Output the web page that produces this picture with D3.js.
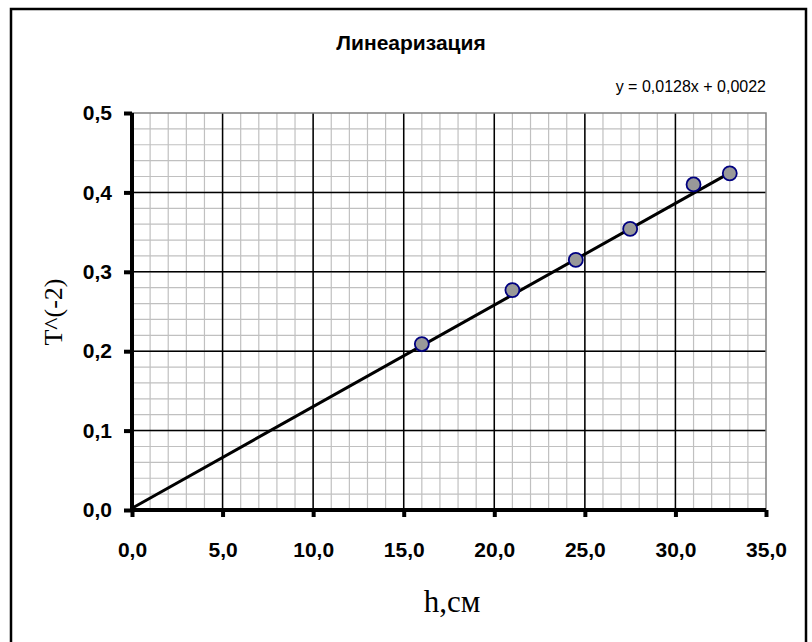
<!DOCTYPE html>
<html><head><meta charset="utf-8">
<script src="https://cdn.jsdelivr.net/npm/d3@7"></script>
<style>body{margin:0;background:#fff}</style>
</head><body>
<svg id="c" width="812" height="642"></svg>
<script>
const hValues = [16, 21, 24.5, 27.5, 31, 33];
const tValues = [0.209, 0.277, 0.315, 0.354, 0.410, 0.424];
const xTicks = [0, 5, 10, 15, 20, 25, 30, 35];
const yTicks = [0, 0.1, 0.2, 0.3, 0.4, 0.5];
const slope = 0.0128, intercept = 0.0022;
const title = "Линеаризация";
const eqText = "y = 0,0128x + 0,0022";
const xTitle = "h,см";
const yTitle = "T^(-2)";

const svg = d3.select("#c");
svg.append("rect").attr("x",11).attr("y",9).attr("width",795).attr("height",640)
  .attr("fill","#fff").attr("stroke","#000").attr("stroke-width",2.5);

const L=132,R=766,T=113,B=510;
const x = d3.scaleLinear().domain([0,35]).range([L,R]);
const y = d3.scaleLinear().domain([0,0.5]).range([B,T]);
const fmt = d => d3.format(".1f")(d).replace(".",",");

const g = svg.append("g");
g.selectAll("line.mx").data(d3.range(1,35)).join("line")
  .attr("x1",d=>x(d)).attr("x2",d=>x(d)).attr("y1",T).attr("y2",B)
  .attr("stroke","#c0c0c0").attr("stroke-width",1.2);
g.selectAll("line.my").data(d3.range(1,25).map(i=>i*0.02)).join("line")
  .attr("y1",d=>y(d)).attr("y2",d=>y(d)).attr("x1",L).attr("x2",R)
  .attr("stroke","#c0c0c0").attr("stroke-width",1.2);
g.selectAll("line.Mx").data(xTicks.slice(1,-1)).join("line")
  .attr("x1",d=>x(d)).attr("x2",d=>x(d)).attr("y1",T).attr("y2",B)
  .attr("stroke","#000").attr("stroke-width",1.5);
g.selectAll("line.My").data(yTicks.slice(1,-1)).join("line")
  .attr("y1",d=>y(d)).attr("y2",d=>y(d)).attr("x1",L).attr("x2",R)
  .attr("stroke","#000").attr("stroke-width",1.5);
g.append("path").attr("d",`M${L},${T}H${R}V${B}`).attr("fill","none").attr("stroke","#808080").attr("stroke-width",1.5);

const xAxis = svg.append("g").attr("transform",`translate(0,${B})`)
  .call(d3.axisBottom(x).tickValues(xTicks).tickFormat(fmt).tickSize(7).tickPadding(25));
const yAxis = svg.append("g").attr("transform",`translate(${L},0)`)
  .call(d3.axisLeft(y).tickValues(yTicks).tickFormat(fmt).tickSize(8).tickPadding(12));
[xAxis,yAxis].forEach(a=>{
  a.select(".domain").attr("stroke","#000").attr("stroke-width",4);
  a.selectAll(".tick line").attr("stroke","#000").attr("stroke-width",4);
  a.selectAll(".tick text").attr("fill","#000")
    .style("font-family","'Liberation Sans', Arial, sans-serif").style("font-weight","bold").style("font-size","21px");
});
xAxis.select(".domain").attr("d",`M${L},0H${R}`);
yAxis.select(".domain").attr("d",`M0,${B}V${T}`);

svg.append("line").attr("x1",x(0)).attr("y1",y(intercept)).attr("x2",x(33)).attr("y2",y(intercept+slope*33))
  .attr("stroke","#000").attr("stroke-width",3);

svg.selectAll("circle.p").data(hValues.map((h,i)=>[h,tValues[i]])).join("circle")
  .attr("cx",d=>x(d[0])).attr("cy",d=>y(d[1])).attr("r",7)
  .attr("fill","#999").attr("stroke","#000080").attr("stroke-width",1.8);

svg.append("text").attr("x",411).attr("y",50).attr("text-anchor","middle")
  .style("font-family","'Liberation Sans', Arial, sans-serif").style("font-weight","bold").style("font-size","21px").text(title);
svg.append("text").attr("x",766).attr("y",92).attr("text-anchor","end")
  .style("font-family","'Liberation Sans', Arial, sans-serif").style("font-size","16px").text(eqText);
svg.append("text").attr("x",452).attr("y",612).attr("text-anchor","middle")
  .style("font-family","'Liberation Serif', 'Times New Roman', serif").style("font-size","31px").text(xTitle);
svg.append("text").attr("transform","translate(62,312) rotate(-90)").attr("text-anchor","middle")
  .style("font-family","'Liberation Serif', 'Times New Roman', serif").style("font-size","26px").text(yTitle);
</script>
</body></html>
